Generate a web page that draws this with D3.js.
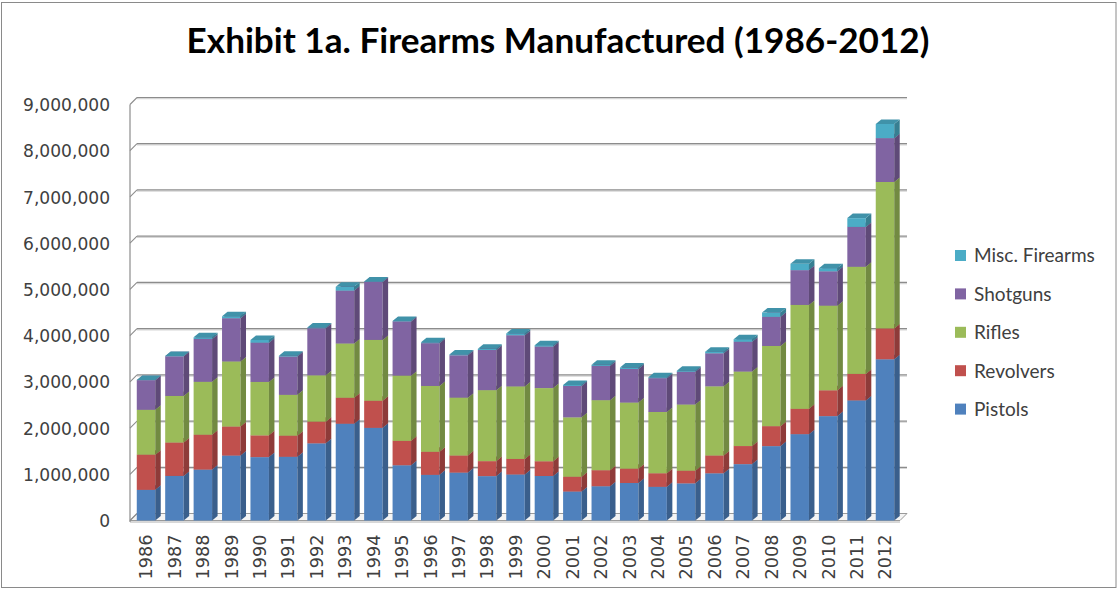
<!DOCTYPE html>
<html>
<head>
<meta charset="utf-8">
<script src="https://cdn.jsdelivr.net/npm/d3@7"></script>
<style>
  html, body { margin: 0; padding: 0; background: #fff; }
  svg { display: block; }
</style>
</head>
<body>
<svg id="chart" width="1118" height="591"></svg>
<script>
// ---- Data (ATF Exhibit 1a, firearms manufactured) ----
const years = ["1986","1987","1988","1989","1990","1991","1992","1993","1994","1995","1996","1997","1998","1999","2000","2001","2002","2003","2004","2005","2006","2007","2008","2009","2010","2011","2012"];
const pistols   = [662973, 964561, 1101011, 1404753, 1371427, 1378252, 1669537, 2093362, 2004298, 1195284, 987528, 1036077, 960365, 995446, 962901, 626836, 741514, 811660, 728511, 803425, 1021260, 1219664, 1609381, 1868258, 2258450, 2598133, 3487883];
const revolvers = [761414, 722512, 754744, 628573, 470495, 456966, 469413, 562292, 586450, 527664, 498944, 370428, 324390, 335784, 318960, 320143, 347070, 309364, 294099, 274205, 385069, 391334, 431753, 547195, 558927, 572857, 667357];
const rifles    = [970507, 1007661, 1144707, 1407400, 1156213, 883482, 1001833, 1173694, 1316607, 1411120, 1424315, 1251341, 1535690, 1569685, 1583042, 1284554, 1515286, 1430324, 1325138, 1431372, 1496505, 1610923, 1734536, 2248851, 1830556, 2318088, 3168206];
const shotguns  = [641482, 857949, 928070, 935541, 848948, 828426, 1018204, 1144940, 1254926, 1173645, 925732, 915978, 868639, 1106995, 898442, 679813, 741325, 726078, 731769, 709313, 714618, 645231, 630710, 752699, 743378, 862401, 949010];
const misc      = [4558, 6980, 35345, 42126, 57434, 15980, 16849, 81349, 10936, 8629, 17920, 19680, 24506, 39837, 30196, 21309, 21700, 30978, 19508, 23179, 35872, 55461, 92564, 138815, 67929, 190407, 306154];
const seriesNames = ["Pistols", "Revolvers", "Rifles", "Shotguns", "Misc. Firearms"];
const seriesColors = ["#4F81BD", "#C0504D", "#9BBB59", "#8064A2", "#4BACC6"];
const yTicks = [0, 1000000, 2000000, 3000000, 4000000, 5000000, 6000000, 7000000, 8000000, 9000000];
const titleText = "Exhibit 1a. Firearms Manufactured (1986-2012)";

// ---- Build table ----
const keys = seriesNames;
const table = years.map((y, i) => ({
  year: y,
  "Pistols": pistols[i],
  "Revolvers": revolvers[i],
  "Rifles": rifles[i],
  "Shotguns": shotguns[i],
  "Misc. Firearms": misc[i]
}));
const stacked = d3.stack().keys(keys)(table);
const color = d3.scaleOrdinal().domain(keys).range(seriesColors);

const svg = d3.select("#chart");

// outer border
svg.append("rect").attr("x", 1.5).attr("y", 2.5).attr("width", 1114.5).attr("height", 585)
  .attr("fill", "#fff").attr("stroke", "#8a8a8a").attr("stroke-width", 1);

// ---- Scales ----
const x = d3.scaleBand().domain(years).range([131.8, 899.2]).paddingInner(0.35).paddingOuter(0.175);
const y = d3.scaleLinear().domain([0, 9000000]).range([520.5, 104.5]);

// 3D offsets
const wallDx = 7, wallDy = 7;     // back wall depth
const barDx = 5.5, barDy = 4.5;   // bar depth

const frontLeft = 130, frontRight = 900;

// ---- Floor ----
svg.append("polygon")
  .attr("points", [
    [frontLeft, y(0)], [frontLeft + wallDx, y(0) - wallDy],
    [frontRight + wallDx, y(0) - wallDy], [frontRight, y(0)]
  ].map(p => p.join(",")).join(" "))
  .attr("fill", "#f4f4f4").attr("stroke", "#9a9a9a").attr("stroke-width", 1);
svg.append("line").attr("x1", frontLeft).attr("x2", frontRight)
  .attr("y1", y(0) + 1.5).attr("y2", y(0) + 1.5).attr("stroke", "#b0b0b0").attr("stroke-width", 1);

// ---- Gridlines (back wall) + left wall ----
const grid = svg.append("g");
yTicks.forEach(v => {
  if (v > 0) {
    grid.append("line")
      .attr("x1", frontLeft + wallDx).attr("x2", frontRight + wallDx)
      .attr("y1", y(v) - wallDy + 1.2).attr("y2", y(v) - wallDy + 1.2)
      .attr("stroke", "#d6d6d6").attr("stroke-width", 1.2);
    grid.append("line")
      .attr("x1", frontLeft + wallDx).attr("x2", frontRight + wallDx)
      .attr("y1", y(v) - wallDy).attr("y2", y(v) - wallDy)
      .attr("stroke", "#8c8c8c").attr("stroke-width", 1.2);
  }
  grid.append("line")
    .attr("x1", frontLeft).attr("y1", y(v))
    .attr("x2", frontLeft + wallDx).attr("y2", y(v) - wallDy)
    .attr("stroke", "#8c8c8c").attr("stroke-width", 1.1);
});
grid.append("line").attr("x1", frontLeft).attr("x2", frontLeft)
  .attr("y1", y(9000000)).attr("y2", y(0) + 1.5)
  .attr("stroke", "#8c8c8c").attr("stroke-width", 1.2);

// ---- Bars (3D stacked) ----
const bw = x.bandwidth();
const barsG = svg.append("g");
const pts = arr => arr.map(p => p.join(",")).join(" ");
years.forEach((yr, i) => {
  const g = barsG.append("g");
  stacked.forEach(layer => {
    const d = layer[i];
    const x0 = x(yr), x1 = x0 + bw;
    const yt = y(d[1]), yb = y(d[0]);
    const c = d3.color(color(layer.key));
    g.append("rect").attr("x", x0).attr("y", yt).attr("width", bw).attr("height", Math.max(0, yb - yt))
      .attr("fill", c.formatHex());
    g.append("polygon").attr("points", pts([[x1, yb], [x1 + barDx, yb - barDy], [x1 + barDx, yt - barDy], [x1, yt]]))
      .attr("fill", c.darker(0.85).formatHex());
    g.append("polygon").attr("points", pts([[x0, yt], [x0 + barDx, yt - barDy], [x1 + barDx, yt - barDy], [x1, yt]]))
      .attr("fill", c.darker(0.45).formatHex());
  });
});

// ---- Y axis ----
const yAxis = svg.append("g").attr("transform", `translate(${frontLeft},0)`)
  .call(d3.axisLeft(y).tickValues(yTicks).tickFormat(d3.format(",")).tickSize(0).tickPadding(20));
yAxis.select(".domain").remove();
yAxis.selectAll("text")
  .attr("font-family", "DejaVu Sans").attr("font-size", 17).attr("fill", "#404040")
  .attr("dy", "0.36em");

// fit helper
function fitWidth(sel, target) {
  const w = sel.node().getComputedTextLength();
  const fs = parseFloat(sel.attr("font-size"));
  return fs * target / w;
}
{
  const top = yAxis.selectAll("text").filter(d => d === 9000000);
  const fs = fitWidth(top, 87);
  yAxis.selectAll("text").attr("font-size", fs);
}

// ---- X axis ----
const xAxis = svg.append("g").attr("transform", `translate(0,${y(0)})`)
  .call(d3.axisBottom(x).tickSize(0));
xAxis.select(".domain").remove();
xAxis.selectAll("text")
  .attr("font-family", "DejaVu Sans").attr("font-size", 17.7).attr("fill", "#404040")
  .attr("transform", "rotate(-90)")
  .attr("text-anchor", "end")
  .attr("x", -14).attr("y", 0).attr("dy", "0.36em");
{
  const first = xAxis.selectAll("text").filter(d => d === "1986");
  const fs = fitWidth(first, 45);
  xAxis.selectAll("text").attr("font-size", fs);
}

// ---- Title ----
const title = svg.append("text")
  .attr("x", 558).attr("y", 53)
  .attr("text-anchor", "middle")
  .attr("font-family", "Lato, 'Open Sans', sans-serif").attr("font-weight", "bold")
  .attr("font-size", 32).attr("fill", "#000")
  .text(titleText);
title.attr("font-size", fitWidth(title, 743));

// ---- Legend ----
const legendOrder = seriesNames.slice().reverse();
const legend = svg.append("g");
const legendItems = legend.selectAll("g").data(legendOrder).join("g")
  .attr("transform", (d, i) => `translate(955, ${255.5 + i * 38.4})`);
legendItems.append("rect").attr("x", 0).attr("y", -5.5).attr("width", 11).attr("height", 11)
  .attr("fill", d => color(d));
legendItems.append("text").attr("x", 19).attr("y", 0).attr("dy", "0.36em")
  .attr("font-family", "Lato, 'Open Sans', sans-serif").attr("font-size", 18).attr("fill", "#404040")
  .text(d => d);
{
  const t = legendItems.selectAll("text").filter(d => d === "Misc. Firearms");
  const fs = fitWidth(t, 121);
  legendItems.selectAll("text").attr("font-size", fs);
}
</script>
</body>
</html>
